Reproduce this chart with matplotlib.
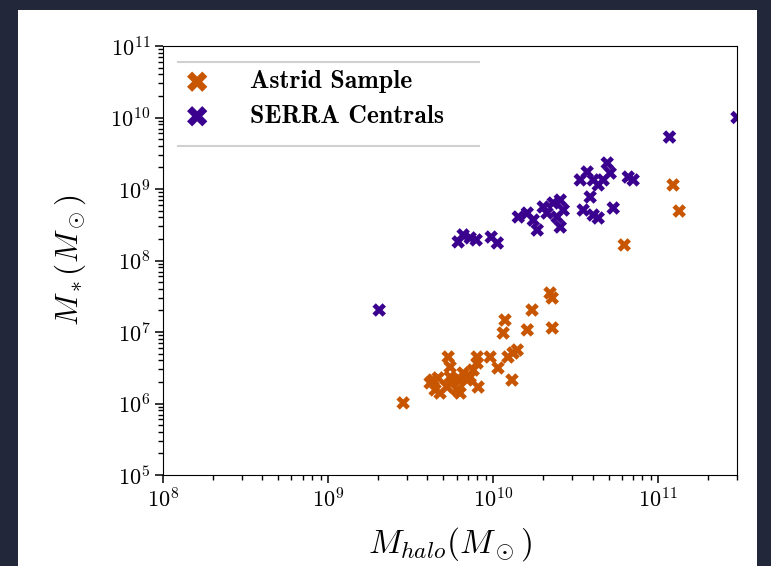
import matplotlib
matplotlib.use("Agg")
import matplotlib.pyplot as plt
from matplotlib.lines import Line2D
from matplotlib.patches import Rectangle
from matplotlib.ticker import FixedLocator, LogLocator, NullFormatter

plt.rcParams["font.family"] = "serif"
plt.rcParams["font.serif"] = ["cmr10"]
plt.rcParams["mathtext.fontset"] = "cm"
plt.rcParams["axes.formatter.use_mathtext"] = True

# Astrid sample (halo mass, stellar mass)
astrid_mhalo = [2.85e9, 4.15e9, 4.45e9, 4.77e9, 4.33e9, 4.64e9, 5.26e9, 5.49e9,
                5.72e9, 6.05e9, 5.49e9, 5.34e9, 6.31e9, 6.58e9, 6.95e9, 7.26e9,
                7.57e9, 8.0e9, 8.0e9, 8.11e9, 9.59e9, 1.07e10, 1.15e10, 1.18e10,
                1.23e10, 1.32e10, 1.40e10, 1.30e10, 1.61e10, 1.72e10, 2.21e10,
                2.28e10, 2.28e10, 6.31e9, 6.22e10, 1.23e11, 1.34e11]
astrid_mstar = [1.02e6, 1.94e6, 1.55e6, 1.40e6, 2.13e6, 2.28e6, 1.70e6, 2.35e6,
                2.13e6, 1.55e6, 3.24e6, 4.47e6, 2.13e6, 2.67e6, 2.13e6, 2.35e6,
                2.94e6, 3.68e6, 4.47e6, 1.70e6, 4.47e6, 3.14e6, 9.68e6, 1.47e7,
                4.47e6, 5.08e6, 5.6e6, 2.13e6, 1.07e7, 2.03e7, 3.51e7,
                2.99e7, 1.14e7, 1.40e6, 1.65e8, 1.14e9, 4.92e8]

# SERRA centrals
serra_mhalo = [2.04e9, 3.0e11, 1.17e11, 6.14e9, 6.58e9, 7.26e9, 7.89e9, 9.73e9,
               1.06e10, 1.42e10, 1.61e10, 1.75e10, 1.85e10, 2.01e10, 2.31e10,
               2.55e10, 2.66e10, 2.44e10, 2.55e10, 2.12e10, 3.37e10, 3.71e10,
               4.04e10, 4.33e10, 4.64e10, 4.91e10, 5.12e10, 3.87e10, 3.51e10,
               4.04e10, 4.33e10, 5.34e10, 6.58e10, 7.05e10]
serra_mstar = [2.03e7, 1.0e10, 5.33e9, 1.82e8, 2.28e8, 2.07e8, 1.94e8, 2.13e8,
               1.76e8, 4.06e8, 4.61e8, 3.68e8, 2.67e8, 5.6e8, 6.37e8,
               7.0e8, 5.08e8, 4.06e8, 2.94e8, 4.61e8, 1.34e9, 1.73e9,
               1.34e9, 1.14e9, 1.34e9, 2.31e9, 1.67e9, 7.73e8, 5.08e8,
               4.33e8, 3.93e8, 5.42e8, 1.47e9, 1.34e9]

fig = plt.figure(figsize=(7.71, 5.66), dpi=100, facecolor="#222839")
fig.patches.append(Rectangle((18 / 771, 0), (757 - 18) / 771, 556 / 566,
                             transform=fig.transFigure, facecolor="white",
                             edgecolor="none", zorder=-10))
ax = fig.add_axes([163 / 771, 1 - 475 / 566, (737 - 163) / 771, (475 - 46) / 566])

ax.scatter(astrid_mhalo, astrid_mstar, marker="X", s=95, color="#c85500",
           edgecolors="none", label="Astrid Sample")
ax.scatter(serra_mhalo, serra_mstar, marker="X", s=95, color="#3a008e",
           edgecolors="none", label="SERRA Centrals")

ax.set_xscale("log")
ax.set_yscale("log")
ax.set_xlim(1e8, 3e11)
ax.set_ylim(1e5, 1e11)

# minor ticks at 2..9 of every decade
x_minor = [m * 10.0**e for e in range(8, 12) for m in range(2, 10)]
y_minor = [m * 10.0**e for e in range(5, 11) for m in range(2, 10)]
ax.xaxis.set_major_locator(LogLocator(base=10, numticks=20))
ax.yaxis.set_major_locator(LogLocator(base=10, numticks=20))
ax.xaxis.set_minor_locator(FixedLocator(x_minor))
ax.yaxis.set_minor_locator(FixedLocator(y_minor))
ax.xaxis.set_minor_formatter(NullFormatter())
ax.yaxis.set_minor_formatter(NullFormatter())
ax.tick_params(which="major", labelsize=16, length=5.5, width=1.1)
ax.tick_params(which="minor", length=3.5, width=1.0, left=True, bottom=True)
ax.set_xlabel(r"$M_{halo}(M_\odot)$", fontsize=24, labelpad=10)
ax.set_ylabel(r"$M_*(M_\odot)$", fontsize=22.5, labelpad=16)

leg = ax.legend(loc="upper left", bbox_to_anchor=(0.026, 0.967), borderaxespad=0,
                frameon=False, markerscale=1.5, handlelength=0.7,
                handletextpad=1.7, labelspacing=0.45,
                prop={"family": "cmb10", "size": 18.5})

# booktabs-like rules above and below the legend
fig.canvas.draw()
bb = leg.get_window_extent()
inv = fig.transFigure.inverted()
x0, y_top = inv.transform((bb.x0, bb.y1 - 2))
x1, y_bot = inv.transform((bb.x1 + 25, bb.y0 - 8))
for yy in (y_top, y_bot):
    fig.add_artist(Line2D([x0, x1], [yy, yy], color="#d0d0d0", lw=1.5,
                          transform=fig.transFigure))

fig.savefig("out.png", dpi=100, facecolor=fig.get_facecolor())
